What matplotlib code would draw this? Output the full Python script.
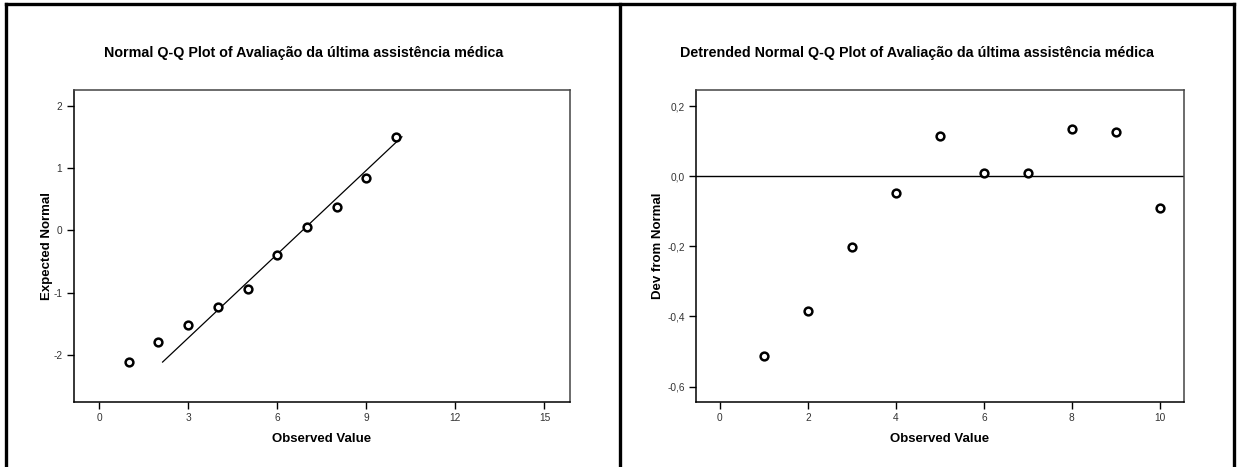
import matplotlib
matplotlib.use("Agg")
import matplotlib.pyplot as plt
from matplotlib.lines import Line2D

plt.rcParams['font.family'] = ['Liberation Sans', 'DejaVu Sans']
plt.rcParams['axes.unicode_minus'] = False

# ---- data ----
observed = [1, 2, 3, 4, 5, 6, 7, 8, 9, 10]
expected_normal = [-2.11, -1.79, -1.52, -1.23, -0.94, -0.39, 0.06, 0.38, 0.84, 1.50]
fit_x = [2.14, 10.2]
fit_y = [-2.11, 1.50]
dev_from_normal = [-0.513, -0.384, -0.203, -0.047, 0.114, 0.009, 0.008, 0.135, 0.126, -0.091]

left_xticks = [0, 3, 6, 9, 12, 15]
left_yticks = [-2, -1, 0, 1, 2]
right_xticks = [0, 2, 4, 6, 8, 10]
right_yticks = [-0.6, -0.4, -0.2, 0.0, 0.2]
right_yticklabels = ['-0,6', '-0,4', '-0,2', '0,0', '0,2']

title_left = "Normal Q-Q Plot of Avaliação da última assistência médica"
title_right = "Detrended Normal Q-Q Plot of Avaliação da última assistência médica"

W, H = 1237, 467
fig = plt.figure(figsize=(W / 100, H / 100), dpi=100)
fig.patch.set_facecolor('white')

def px_rect(x0, x1, ytop, ybot):
    return [x0 / W, 1 - ybot / H, (x1 - x0) / W, (ybot - ytop) / H]

ax1 = fig.add_axes(px_rect(73.5, 570, 90, 402))
ax2 = fig.add_axes(px_rect(695.7, 1184, 90, 402))

for ax in (ax1, ax2):
    for s in ('left', 'bottom'):
        ax.spines[s].set_color('black')
        ax.spines[s].set_linewidth(1.1)
    for s in ('top', 'right'):
        ax.spines[s].set_color('#444444')
        ax.spines[s].set_linewidth(1.1)
    ax.tick_params(direction='out', length=5, width=1.0, color='black',
                   labelsize=7.3, labelcolor='#333333', pad=3)

mk = dict(marker='o', linestyle='none', markersize=5.6, markerfacecolor='white',
          markeredgecolor='black', markeredgewidth=1.8)

# Left: Normal Q-Q
ax1.plot(fit_x, fit_y, color='black', linewidth=0.9)
ax1.plot(observed, expected_normal, **mk)
ax1.set_xlim(-0.86, 15.86)
ax1.set_ylim(-2.75, 2.25)
ax1.set_xticks(left_xticks)
ax1.set_yticks(left_yticks)
ax1.set_xlabel('Observed Value', fontsize=9.5, fontweight='bold', labelpad=7)
ax1.set_ylabel('Expected Normal', fontsize=9.5, fontweight='bold', labelpad=0)
fig.text(303.8 / W, 1 - 53 / H, title_left, ha='center', va='center',
         fontsize=10.3, fontweight='bold')

# Right: Detrended
ax2.axhline(0, color='black', linewidth=1.0)
ax2.plot(observed, dev_from_normal, **mk)
ax2.set_xlim(-0.55, 10.55)
ax2.set_ylim(-0.644, 0.246)
ax2.set_xticks(right_xticks)
ax2.set_yticks(right_yticks)
ax2.set_yticklabels(right_yticklabels)
ax2.set_xlabel('Observed Value', fontsize=9.5, fontweight='bold', labelpad=7)
ax2.set_ylabel('Dev from Normal', fontsize=9.5, fontweight='bold', labelpad=2)
fig.text(917 / W, 1 - 53 / H, title_right, ha='center', va='center',
         fontsize=10.3, fontweight='bold')

# Outer frame lines
lw = 2.4
def fline(x0, y0, x1, y1):
    fig.add_artist(Line2D([x0 / W, x1 / W], [1 - y0 / H, 1 - y1 / H],
                          color='black', linewidth=lw, transform=fig.transFigure))
fline(5.5, 4, 1233.5, 4)
fline(5.5, 4, 5.5, 467)
fline(619.5, 4, 619.5, 467)
fline(1233.5, 4, 1233.5, 467)

fig.savefig('out.png', dpi=100, facecolor='white')
